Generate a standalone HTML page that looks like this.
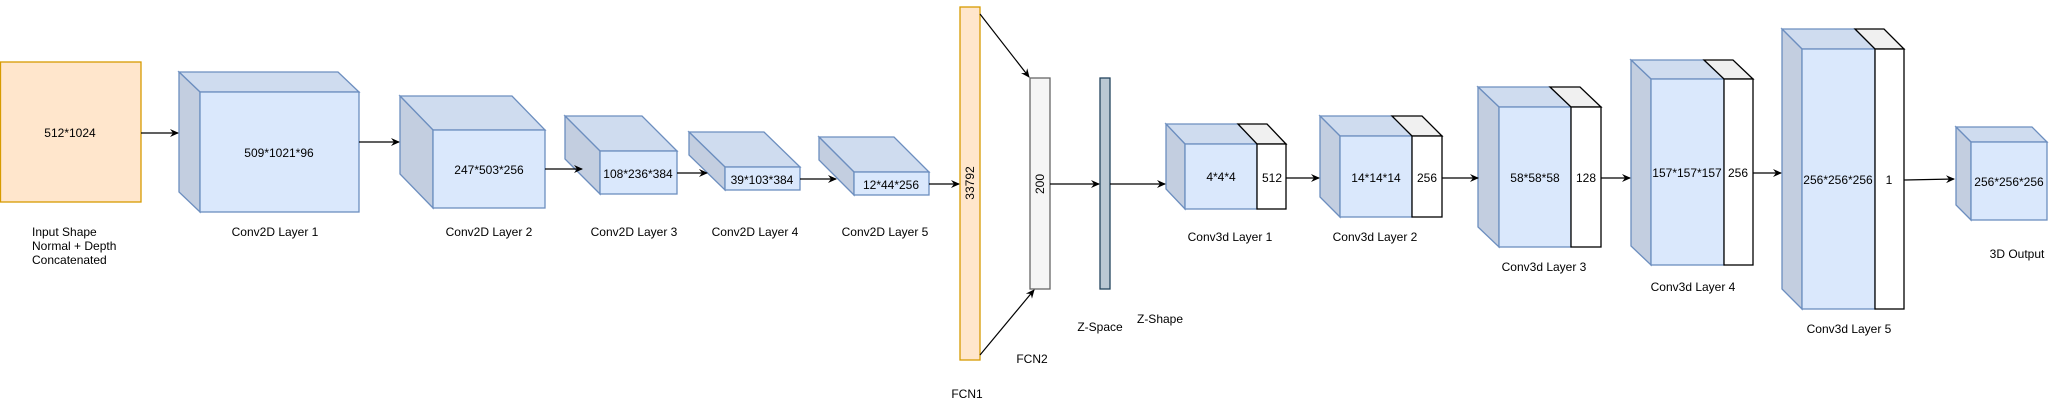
<!DOCTYPE html>
<html><head><meta charset="utf-8"><style>
html,body{margin:0;padding:0;background:#fff;}
svg{display:block;}
text{font-family:"Liberation Sans",Arial,sans-serif;font-size:12px;fill:#000;}
.t{fill:#cfdcef;stroke:#6c8ebf;stroke-width:1.3}
.s{fill:#c3cee0;stroke:#6c8ebf;stroke-width:1.3}
.f{fill:#dae8fc;stroke:#6c8ebf;stroke-width:1.3}
.wt{fill:#f0f0f0;stroke:#000;stroke-width:1.3}
.w{fill:#fff;stroke:#000;stroke-width:1.3}
.a{stroke:#000;stroke-width:1.2;fill:none;marker-end:url(#ar)}
</style></head><body>
<svg width="2049" height="405" viewBox="0 0 2049 405" xmlns="http://www.w3.org/2000/svg">
<defs><marker id="ar" markerWidth="10" markerHeight="8" refX="8" refY="4" orient="auto" markerUnits="userSpaceOnUse"><path d="M0,0 L9,4 L0,8 L3,4 Z" fill="#000"/></marker></defs>

<rect x="0.5" y="62" width="140.5" height="140" fill="#ffe6cc" stroke="#d79b00" stroke-width="1.3"/>
<text x="70" y="137" text-anchor="middle">512*1024</text>

<polygon class="t" points="179,72 338,72 359,92 200,92"/><polygon class="s" points="179,72 200,92 200,212 179,192"/><rect class="f" x="200" y="92" width="159" height="120"/>
<text x="279" y="157" text-anchor="middle">509*1021*96</text>
<polygon class="t" points="400,96 512,96 545,130 433,130"/><polygon class="s" points="400,96 433,130 433,208 400,174"/><rect class="f" x="433" y="130" width="112" height="78"/>
<text x="489" y="174" text-anchor="middle">247*503*256</text>
<polygon class="t" points="565,116 642,116 677,151 600,151"/><polygon class="s" points="565,116 600,151 600,194 565,159"/><rect class="f" x="600" y="151" width="77" height="43"/>
<text x="638" y="178" text-anchor="middle">108*236*384</text>
<polygon class="t" points="689,132 764,132 800,167 725,167"/><polygon class="s" points="689,132 725,167 725,190 689,155"/><rect class="f" x="725" y="167" width="75" height="23"/>
<text x="762" y="184" text-anchor="middle">39*103*384</text>
<polygon class="t" points="819,137 894,137 929,172 854,172"/><polygon class="s" points="819,137 854,172 854,195 819,160"/><rect class="f" x="854" y="172" width="75" height="23"/>
<text x="891" y="189" text-anchor="middle">12*44*256</text>

<rect x="960" y="7" width="20" height="353" fill="#ffe6cc" stroke="#d79b00" stroke-width="1.3"/>
<text transform="translate(974,183) rotate(-90)" text-anchor="middle">33792</text>
<rect x="1030" y="78" width="20" height="211" fill="#f5f5f5" stroke="#666" stroke-width="1.3"/>
<text transform="translate(1044,184) rotate(-90)" text-anchor="middle" fill="#333">200</text>
<rect x="1100" y="78" width="10" height="211" fill="#bac8d3" stroke="#23445d" stroke-width="1.3"/>

<polygon class="t" points="1166,124 1238,124 1257,144 1185,144"/><polygon class="s" points="1166,124 1185,144 1185,209 1166,189"/><rect class="f" x="1185" y="144" width="72" height="65"/>
<polygon class="wt" points="1238,124 1267,124 1286,144 1257,144"/><rect class="w" x="1257" y="144" width="29" height="65"/>
<text x="1221" y="181" text-anchor="middle">4*4*4</text><text x="1272" y="182" text-anchor="middle">512</text>

<polygon class="t" points="1320,116 1392,116 1412,136 1340,136"/><polygon class="s" points="1320,116 1340,136 1340,217 1320,197"/><rect class="f" x="1340" y="136" width="72" height="81"/>
<polygon class="wt" points="1392,116 1422,116 1442,136 1412,136"/><rect class="w" x="1412" y="136" width="30" height="81"/>
<text x="1376" y="182" text-anchor="middle">14*14*14</text><text x="1427" y="182" text-anchor="middle">256</text>

<polygon class="t" points="1478,87 1550,87 1571,107 1499,107"/><polygon class="s" points="1478,87 1499,107 1499,247 1478,227"/><rect class="f" x="1499" y="107" width="72" height="140"/>
<polygon class="wt" points="1550,87 1580,87 1601,107 1571,107"/><rect class="w" x="1571" y="107" width="30" height="140"/>
<text x="1535" y="182" text-anchor="middle">58*58*58</text><text x="1586" y="182" text-anchor="middle">128</text>

<polygon class="t" points="1631,60 1704,60 1724,79 1651,79"/><polygon class="s" points="1631,60 1651,79 1651,265 1631,246"/><rect class="f" x="1651" y="79" width="73" height="186"/>
<polygon class="wt" points="1704,60 1733,60 1753,79 1724,79"/><rect class="w" x="1724" y="79" width="29" height="186"/>
<text x="1687" y="177" text-anchor="middle">157*157*157</text><text x="1738" y="177" text-anchor="middle">256</text>

<polygon class="t" points="1782,29 1855,29 1875,49 1802,49"/><polygon class="s" points="1782,29 1802,49 1802,309 1782,289"/><rect class="f" x="1802" y="49" width="73" height="260"/>
<polygon class="wt" points="1855,29 1884,29 1904,49 1875,49"/><rect class="w" x="1875" y="49" width="29" height="260"/>
<text x="1838" y="184" text-anchor="middle">256*256*256</text><text x="1889" y="184" text-anchor="middle">1</text>

<polygon class="t" points="1956,127 2032,127 2047,142 1971,142"/><polygon class="s" points="1956,127 1971,142 1971,220 1956,205"/><rect class="f" x="1971" y="142" width="76" height="78"/>
<text x="2009" y="186" text-anchor="middle">256*256*256</text>

<path class="a" d="M141,133 L178,133"/>
<path class="a" d="M359,142 L399,142"/>
<path class="a" d="M545,169 L582,169"/>
<path class="a" d="M677,173 L707,173"/>
<path class="a" d="M800,179 L836,179"/>
<path class="a" d="M929,184 L959,184"/>
<path class="a" d="M980,14 L1029,77"/>
<path class="a" d="M980,355 L1034,290"/>
<path class="a" d="M1050,184 L1099,184"/>
<path class="a" d="M1110,184 L1165,184"/>
<path class="a" d="M1286,178 L1319,178"/>
<path class="a" d="M1442,178 L1478,178"/>
<path class="a" d="M1601,178 L1630,178"/>
<path class="a" d="M1753,173 L1781,173"/>
<path class="a" d="M1904,180 L1954,179"/>

<text x="32" y="236">Input Shape</text>
<text x="32" y="250">Normal + Depth</text>
<text x="32" y="264">Concatenated</text>
<text x="275" y="236" text-anchor="middle">Conv2D Layer 1</text>
<text x="489" y="236" text-anchor="middle">Conv2D Layer 2</text>
<text x="634" y="236" text-anchor="middle">Conv2D Layer 3</text>
<text x="755" y="236" text-anchor="middle">Conv2D Layer 4</text>
<text x="885" y="236" text-anchor="middle">Conv2D Layer 5</text>
<text x="967" y="398" text-anchor="middle">FCN1</text>
<text x="1032" y="363" text-anchor="middle">FCN2</text>
<text x="1100" y="331" text-anchor="middle">Z-Space</text>
<text x="1160" y="323" text-anchor="middle">Z-Shape</text>
<text x="1230" y="241" text-anchor="middle">Conv3d Layer 1</text>
<text x="1375" y="241" text-anchor="middle">Conv3d Layer 2</text>
<text x="1544" y="271" text-anchor="middle">Conv3d Layer 3</text>
<text x="1693" y="291" text-anchor="middle">Conv3d Layer 4</text>
<text x="1849" y="333" text-anchor="middle">Conv3d Layer 5</text>
<text x="2017" y="258" text-anchor="middle">3D Output</text>
</svg>
</body></html>
